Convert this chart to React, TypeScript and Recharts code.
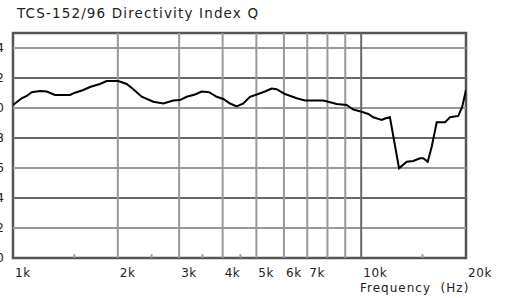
import React from "react";
import {
  ComposedChart,
  Line,
  XAxis,
  YAxis,
  ReferenceLine,
  ReferenceArea,
} from "recharts";

const freqs = [
  1000, 1059, 1095, 1132, 1196, 1250, 1320, 1458, 1507, 1592, 1664, 1777, 1858,
  2006, 2121, 2216, 2342, 2529, 2702, 2887, 3017, 3154, 3332, 3484, 3656, 3846,
  4018, 4200, 4390, 4586, 4793, 5011, 5293, 5533, 5718, 6042, 6527, 6899, 7784,
  8045, 8504, 9084, 9491, 10034, 10482, 10833, 11453, 11705, 12094, 12843,
  13512, 14115, 14755, 15081, 15524, 15942, 16478, 17406, 17993, 19006, 19515,
  20000,
];
const qValues = [
  10.2, 10.65, 10.8, 11.05, 11.13, 11.1, 10.87, 10.87, 11.02, 11.2, 11.4, 11.6,
  11.8, 11.8, 11.6, 11.25, 10.75, 10.42, 10.3, 10.5, 10.53, 10.75, 10.9, 11.1,
  11.05, 10.75, 10.6, 10.3, 10.1, 10.3, 10.75, 10.9, 11.1, 11.3, 11.25, 10.93,
  10.65, 10.5, 10.5, 10.42, 10.27, 10.2, 9.9, 9.75, 9.6, 9.38, 9.2, 9.3, 9.38,
  5.98, 6.42, 6.47, 6.65, 6.65, 6.42, 7.42, 9.05, 9.05, 9.38, 9.47, 10.1, 11.2,
];

const xTicks = [1000, 2000, 3000, 4000, 5000, 6000, 7000, 10000, 20000];
const xTickLabels = ["1k", "2k", "3k", "4k", "5k", "6k", "7k", "10k", "20k"];
const yTicks = [0, 2, 4, 6, 8, 10, 12, 14];
const lightVGrid = [2000, 3000, 4000, 5000, 6000, 7000, 8000, 9000];
const darkVGrid = [10000];
const lightHGrid = [2, 6, 10, 14];
const darkHGrid = [4, 8, 12];
const minorTicks = [1500, 2500, 3500, 4500, 15000];

const title = "TCS-152/96 Directivity Index Q";
const xTitle = "Frequency\u00a0\u00a0(Hz)";

const data = freqs.map((f, i) => ({ f, q: qValues[i] }));

const FONT = "'DejaVu Sans', Verdana, sans-serif";

const XTick = (props: any) => {
  const { x, y, payload } = props;
  const idx = xTicks.indexOf(payload.value);
  return (
    <text
      x={x + 2}
      y={y + 17}
      textAnchor="start"
      fontSize={12}
      letterSpacing={0.6}
      fill="#222"
      fontFamily={FONT}
    >
      {xTickLabels[idx]}
    </text>
  );
};

const YTick = (props: any) => {
  const { y, payload } = props;
  return (
    <text
      x={3.8}
      y={y}
      dy="0.36em"
      textAnchor="end"
      fontSize={12}
      fill="#222"
      fontFamily={FONT}
    >
      {String(payload.value)}
    </text>
  );
};

export default function App() {
  return (
    <div
      style={{
        position: "fixed",
        left: 0,
        top: 0,
        width: 508,
        height: 298,
        background: "#fff",
      }}
    >
      <div
        style={{
          position: "absolute",
          left: 17,
          top: 5,
          fontFamily: FONT,
          fontSize: 13.5,
          letterSpacing: 1.15,
          color: "#222",
          whiteSpace: "nowrap",
          lineHeight: "16px",
        }}
      >
        {title}
      </div>
      <div
        style={{
          position: "absolute",
          left: 360,
          top: 281,
          fontFamily: FONT,
          fontSize: 12,
          letterSpacing: 1,
          color: "#222",
          whiteSpace: "nowrap",
          lineHeight: "14px",
        }}
      >
        {xTitle}
      </div>
      <ComposedChart
        width={508}
        height={298}
        data={data}
        margin={{ top: 33, right: 42, bottom: 0, left: 0 }}
      >
        <XAxis
          dataKey="f"
          type="number"
          scale="log"
          domain={[1000, 20000]}
          ticks={xTicks}
          interval={0}
          tick={<XTick />}
          tickLine={false}
          axisLine={false}
          tickSize={0}
          height={40}
          allowDataOverflow
        />
        <YAxis
          type="number"
          domain={[0, 15]}
          ticks={yTicks}
          interval={0}
          width={13}
          tickLine={false}
          axisLine={false}
          tickSize={0}
          tick={<YTick />}
          allowDataOverflow
        />
        {lightHGrid.map((v) => (
          <ReferenceLine key={"lh" + v} y={v} stroke="#999" strokeWidth={2} />
        ))}
        {darkHGrid.map((v) => (
          <ReferenceLine key={"dh" + v} y={v} stroke="#6a6a6a" strokeWidth={2} />
        ))}
        {lightVGrid.map((v) => (
          <ReferenceLine key={"lv" + v} x={v} stroke="#999" strokeWidth={2} />
        ))}
        {darkVGrid.map((v) => (
          <ReferenceLine key={"dv" + v} x={v} stroke="#6a6a6a" strokeWidth={2} />
        ))}
        {minorTicks.map((v) => (
          <ReferenceLine
            key={"mt" + v}
            segment={[
              { x: v, y: 0 },
              { x: v, y: 0.25 },
            ]}
            stroke="#999"
            strokeWidth={2}
          />
        ))}
        <ReferenceArea
          x1={1000}
          x2={20000}
          y1={0}
          y2={15}
          fill="none"
          fillOpacity={0}
          stroke="#555"
          strokeWidth={2.5}
        />
        <Line
          type="linear"
          dataKey="q"
          stroke="#000"
          strokeWidth={2}
          dot={false}
          isAnimationActive={false}
        />
      </ComposedChart>
    </div>
  );
}
